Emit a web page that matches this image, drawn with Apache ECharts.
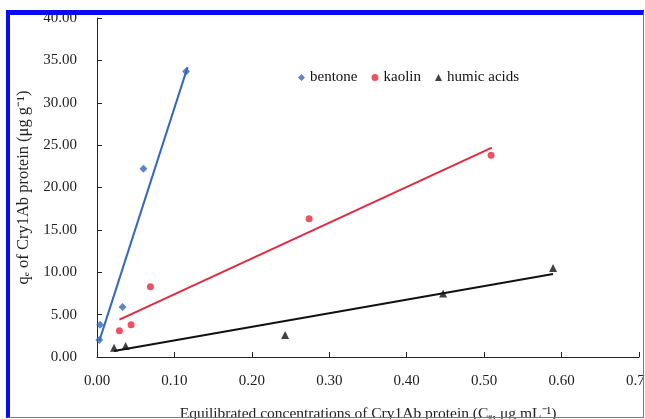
<!DOCTYPE html>
<html>
<head>
<meta charset="utf-8">
<script src="https://cdn.jsdelivr.net/npm/echarts@6/dist/echarts.min.js"></script>
<style>
html,body{margin:0;padding:0;background:#fff;}
#wrap{position:relative;width:645px;height:419px;overflow:hidden;background:#fff;}
#chart{position:absolute;left:0;top:0;width:645px;height:419px;}
#frame{position:absolute;left:6px;top:10px;width:633px;height:402px;border-top:5px solid #0a0af0;border-left:4px solid #0a0af0;border-right:1px solid #6d6df5;border-bottom:1px solid #6d6df5;pointer-events:none;}
</style>
</head>
<body>
<div id="wrap"><div id="chart"></div><div id="frame"></div></div>
<script>
// Data
var bentoneX = [0.003, 0.004, 0.033, 0.060, 0.115];
var bentoneY = [2.0, 3.8, 5.9, 22.2, 33.7];
var kaolinX = [0.029, 0.044, 0.069, 0.274, 0.509];
var kaolinY = [3.1, 3.8, 8.3, 16.3, 23.8];
var humicX = [0.022, 0.037, 0.243, 0.447, 0.589];
var humicY = [1.1, 1.3, 2.6, 7.5, 10.5];
// Trend line end points
var bentoneFitX = [0.003, 0.117];
var bentoneFitY = [1.9, 34.2];
var kaolinFitX = [0.029, 0.510];
var kaolinFitY = [4.4, 24.7];
var humicFitX = [0.022, 0.589];
var humicFitY = [0.7, 9.8];
var seriesNames = ['bentone', 'kaolin', 'humic acids'];
var xTicks = [0, 0.1, 0.2, 0.3, 0.4, 0.5, 0.6, 0.7];
var yTicks = [0, 5, 10, 15, 20, 25, 30, 35, 40];

function pairs(xs, ys){ return xs.map(function(x,i){ return [x, ys[i]]; }); }

var FONT = '"Liberation Serif", "Times New Roman", serif';
var C_BLUE = '#3368bc', C_RED = '#e6283e', C_BLACK = '#111111';

var chart = echarts.init(document.getElementById('chart'));
chart.setOption({
  animation: false,
  backgroundColor: '#fff',
  textStyle: { fontFamily: FONT },
  grid: { left: 97, right: 6, top: 18, bottom: 62, containLabel: false, outerBoundsMode: 'none' },
  legend: {
    data: seriesNames,
    left: 293, top: 65,
    itemWidth: 7, itemHeight: 7, itemGap: 14,
    textStyle: { fontFamily: FONT, fontSize: 15, color: '#111' }
  },
  xAxis: {
    type: 'value', min: xTicks[0], max: xTicks[xTicks.length-1], interval: 0.1,
    axisLine: { lineStyle: { color: '#222', width: 1 } },
    axisTick: { inside: true, length: 5, lineStyle: { color: '#222' } },
    splitLine: { show: false },
    axisLabel: { margin: 17, fontSize: 15, color: '#222', fontFamily: FONT, formatter: function(v){ return v.toFixed(2); } },
    name: 'Equilibrated concentrations of Cry1Ab protein (C\u2091, \u03bcg mL\u207b\u00b9)',
    nameLocation: 'middle', nameGap: 49,
    nameTextStyle: { fontSize: 15.5, color: '#222', fontFamily: FONT }
  },
  yAxis: {
    type: 'value', min: yTicks[0], max: yTicks[yTicks.length-1], interval: 5,
    axisLine: { show: true, lineStyle: { color: '#222', width: 1 } },
    axisTick: { show: true, inside: true, length: 5, lineStyle: { color: '#222' } },
    splitLine: { show: false },
    axisLabel: { margin: 20, fontSize: 15, color: '#222', fontFamily: FONT, formatter: function(v){ return v.toFixed(2); } },
    name: 'q\u2091 of Cry1Ab protein (\u03bcg g\u207b\u00b9)',
    nameLocation: 'middle', nameGap: 64,
    nameTextStyle: { fontSize: 16.5, color: '#222', fontFamily: FONT }
  },
  series: [
    { name: seriesNames[0], type: 'scatter', symbol: 'diamond', symbolSize: 8, itemStyle: { color: C_BLUE }, data: pairs(bentoneX, bentoneY), z: 3 },
    { name: seriesNames[1], type: 'scatter', symbol: 'circle', symbolSize: 7, itemStyle: { color: C_RED }, data: pairs(kaolinX, kaolinY), z: 3 },
    { name: seriesNames[2], type: 'scatter', symbol: 'triangle', symbolSize: 8, itemStyle: { color: C_BLACK }, data: pairs(humicX, humicY), z: 3 },
    { name: 'bentone fit', type: 'line', showSymbol: false, symbol: 'none', lineStyle: { color: C_BLUE, width: 2 }, data: pairs(bentoneFitX, bentoneFitY), z: 2 },
    { name: 'kaolin fit', type: 'line', showSymbol: false, symbol: 'none', lineStyle: { color: C_RED, width: 2 }, data: pairs(kaolinFitX, kaolinFitY), z: 2 },
    { name: 'humic fit', type: 'line', showSymbol: false, symbol: 'none', lineStyle: { color: C_BLACK, width: 2 }, data: pairs(humicFitX, humicFitY), z: 2 }
  ]
});
</script>
</body>
</html>
